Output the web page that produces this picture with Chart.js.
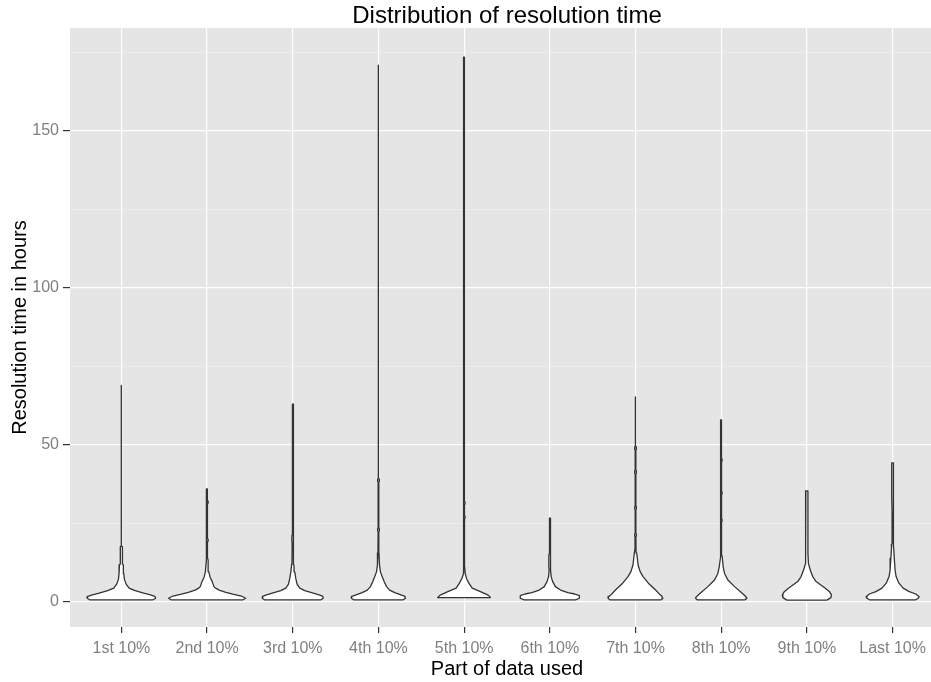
<!DOCTYPE html>
<html>
<head>
<meta charset="utf-8">
<title>Distribution of resolution time</title>
<script src="https://cdn.jsdelivr.net/npm/chart.js@4/dist/chart.umd.min.js"></script>
<style>
    html, body { margin: 0; padding: 0; overflow: hidden; background: #ffffff; }
    #wrap { width: 944px; height: 682px; }
</style>
</head>
<body>
<div id="wrap"><canvas id="violins" width="944" height="682"></canvas></div>
<script>
// -----------------------
// DATA
// -----------------------

const categories = ['1st 10%', '2nd 10%', '3rd 10%', '4th 10%', '5th 10%',
                    '6th 10%', '7th 10%', '8th 10%', '9th 10%', 'Last 10%'];

const yMajorTicks = [0, 50, 100, 150];
const yMinorTicks = [25, 75, 125, 175];

// violin outlines: [hours, half width in category units], bottom to top
const v1st = [[0.7, 0.37], [1.2, 0.40], [1.8, 0.39], [2.3, 0.34], [2.8, 0.26], [3.6, 0.16], [4.4, 0.09],
              [5.7, 0.055], [7.2, 0.035], [9.1, 0.027], [11.8, 0.023], [12.1, 0.013], [17.6, 0.012],
              [17.8, 0.004], [69, 0.003]];
const v2nd = [[0.7, 0.42], [1.2, 0.45], [1.9, 0.40], [2.5, 0.30], [3.1, 0.22], [3.8, 0.14], [4.4, 0.10],
              [4.9, 0.08], [6.5, 0.06], [7.9, 0.035], [9.6, 0.02], [13.4, 0.012], [14, 0.005],
              [19.1, 0.004], [19.4, 0.012], [20.0, 0.012], [20.3, 0.004], [31.2, 0.004], [31.5, 0.012],
              [32.1, 0.012], [32.4, 0.004], [36, 0.003]];
const v3rd = [[0.7, 0.33], [1.2, 0.355], [1.8, 0.35], [2.2, 0.316], [3.0, 0.22], [3.6, 0.14], [4.4, 0.082],
              [5.7, 0.05], [7.5, 0.035], [9.6, 0.023], [11.5, 0.015], [12, 0.01], [17, 0.008],
              [19, 0.008], [19.5, 0.011], [21, 0.011], [21.5, 0.004], [63, 0.003]];
const v4th = [[0.7, 0.29], [1.2, 0.316], [1.8, 0.31], [2.2, 0.27], [3.0, 0.19], [3.8, 0.13], [4.9, 0.094],
              [6.5, 0.066], [8.1, 0.043], [9.6, 0.023], [11.8, 0.012], [15.6, 0.006], [22.4, 0.004],
              [22.7, 0.01], [23.3, 0.01], [23.6, 0.004], [38.2, 0.004], [38.5, 0.01], [39.1, 0.01],
              [39.4, 0.004], [171, 0.003]];
const v5th = [[1.4, 0.31], [2.2, 0.28], [3.3, 0.19], [4.4, 0.094], [6.0, 0.055], [7.5, 0.027],
              [9.1, 0.012], [11.2, 0.006], [22, 0.006], [23, 0.003], [26.4, 0.004], [26.7, 0.01],
              [27.3, 0.01], [27.6, 0.004], [30.9, 0.004], [31.2, 0.01], [31.8, 0.01], [32.1, 0.004],
              [173.5, 0.003]];
const v6th = [[0.7, 0.30], [1.2, 0.345], [2.0, 0.345], [2.55, 0.29], [3.0, 0.21], [3.8, 0.125], [4.9, 0.065],
              [6.5, 0.033], [8.1, 0.015], [10.2, 0.008], [11, 0.012], [15, 0.012], [15.5, 0.004],
              [26.7, 0.003]];
const v7th = [[0.7, 0.30], [1.2, 0.32], [1.8, 0.31], [2.2, 0.29], [3.8, 0.234], [6.0, 0.15], [8.1, 0.088],
              [9.6, 0.055], [11.8, 0.03], [15.6, 0.014], [17, 0.006], [20.7, 0.004], [21.0, 0.01],
              [21.6, 0.01], [21.9, 0.004], [29.4, 0.004], [29.7, 0.01], [30.3, 0.01], [30.6, 0.004],
              [40.8, 0.004], [41.1, 0.01], [41.7, 0.01], [42.0, 0.004], [48.4, 0.004], [48.7, 0.01],
              [49.3, 0.01], [49.6, 0.004], [65.3, 0.003]];
const v8th = [[0.7, 0.28], [1.2, 0.30], [1.7, 0.29], [2.8, 0.245], [4.9, 0.156], [7.0, 0.078], [9.1, 0.039],
              [11.2, 0.023], [14.4, 0.012], [15, 0.005], [25.4, 0.004], [25.7, 0.01], [26.3, 0.01],
              [26.6, 0.004], [34.1, 0.004], [34.4, 0.01], [35.0, 0.01], [35.3, 0.004], [44.6, 0.004],
              [44.9, 0.01], [45.5, 0.01], [45.8, 0.004], [58, 0.003]];
const v9th = [[0.6, 0.234], [1.4, 0.28], [2.2, 0.287], [3.3, 0.264], [4.4, 0.215], [6.5, 0.107],
              [8.1, 0.068], [10.2, 0.039], [12.3, 0.018], [15.5, 0.012], [35.4, 0.012]];
const vLast = [[0.7, 0.27], [1.2, 0.30], [1.7, 0.31], [2.55, 0.27], [3.3, 0.195], [4.4, 0.123], [6.0, 0.074],
               [8.1, 0.041], [10.2, 0.029], [13.9, 0.02], [17.6, 0.012], [17.8, 0.012], [18.2, 0.016],
               [18.6, 0.006], [28, 0.005], [33, 0.01], [44.3, 0.01]];

const violins = [v1st, v2nd, v3rd, v4th, v5th, v6th, v7th, v8th, v9th, vLast];

// -----------------------
// BUILD DATASETS
// -----------------------

// closed outline: up the right side, down the left side, back to start
function outline(profile, center){
    const right = profile.map(p => ({x: center + p[1], y: p[0]}));
    const left = profile.slice().reverse().map(p => ({x: center - p[1], y: p[0]}));
    return right.concat(left, [right[0]]);
}

const datasets = violins.map((profile, i) => ({
    data: outline(profile, i + 1),
    borderColor: '#333333',
    borderWidth: 1.3,
    borderJoinStyle: 'round',
    backgroundColor: '#ffffff',
    fill: 'shape',
    pointRadius: 0,
    tension: 0
}));

// -----------------------
// PLUGINS
// -----------------------

const panel = {
    id: 'panel',
    beforeDraw(chart){
        const {ctx, chartArea: a} = chart;
        ctx.save();
        ctx.fillStyle = '#ffffff';
        ctx.fillRect(0, 0, chart.width, chart.height);
        ctx.fillStyle = '#e5e5e5';
        ctx.fillRect(a.left, a.top, a.right - a.left, a.bottom - a.top);
        ctx.restore();
    },
    afterDraw(chart){
        const {ctx, chartArea: a} = chart;
        ctx.save();
        ctx.fillStyle = '#000000';
        ctx.font = '24px "Liberation Sans", Arial, sans-serif';
        ctx.textAlign = 'center';
        ctx.textBaseline = 'middle';
        ctx.fillText('Distribution of resolution time', (a.left + a.right) / 2, 16);
        ctx.restore();
    }
};

const isMajor = v => yMajorTicks.includes(v);

// -----------------------
// CHART
// -----------------------

new Chart(document.getElementById('violins'), {
    type: 'line',
    data: { datasets },
    options: {
        responsive: false,
        animation: false,
        layout: { padding: { top: 28, left: 0, right: 0, bottom: 0 } },
        plugins: {
            legend: { display: false },
            tooltip: { enabled: false },
            title: { display: false }
        },
        scales: {
            x: {
                type: 'linear',
                min: 0.4,
                max: 10.6,
                afterBuildTicks: s => { s.ticks = categories.map((c, i) => ({value: i + 1})); },
                afterFit: s => { s.height = 55; },
                border: { display: false },
                grid: { color: '#ffffff', lineWidth: 1.2, tickColor: '#333333', tickLength: 6 },
                ticks: {
                    autoSkip: false,
                    maxRotation: 0,
                    padding: 6,
                    color: '#7f7f7f',
                    font: { family: '"Liberation Sans", Arial, sans-serif', size: 16 },
                    callback: v => categories[v - 1]
                },
                title: {
                    display: true,
                    text: 'Part of data used',
                    color: '#000000',
                    font: { family: '"Liberation Sans", Arial, sans-serif', size: 20 },
                    padding: { top: 0, bottom: 1 }
                }
            },
            y: {
                type: 'linear',
                min: -7.96,
                max: 182.8,
                afterBuildTicks: s => {
                    s.ticks = yMajorTicks.concat(yMinorTicks).sort((a, b) => a - b).map(v => ({value: v}));
                },
                afterFit: s => { s.width = 70; },
                border: { display: false },
                grid: {
                    color: c => isMajor(c.tick.value) ? '#ffffff' : '#f2f2f2',
                    lineWidth: c => isMajor(c.tick.value) ? 1.2 : 0.6,
                    tickColor: c => isMajor(c.tick.value) ? '#333333' : 'rgba(0,0,0,0)',
                    tickLength: 7
                },
                ticks: {
                    padding: 4,
                    color: '#7f7f7f',
                    font: { family: '"Liberation Sans", Arial, sans-serif', size: 16 },
                    callback: v => isMajor(v) ? String(v) : ''
                },
                title: {
                    display: true,
                    text: 'Resolution time in hours',
                    color: '#000000',
                    font: { family: '"Liberation Sans", Arial, sans-serif', size: 20 },
                    padding: { top: 8, bottom: 0 }
                }
            }
        }
    },
    plugins: [panel]
});
</script>
</body>
</html>
